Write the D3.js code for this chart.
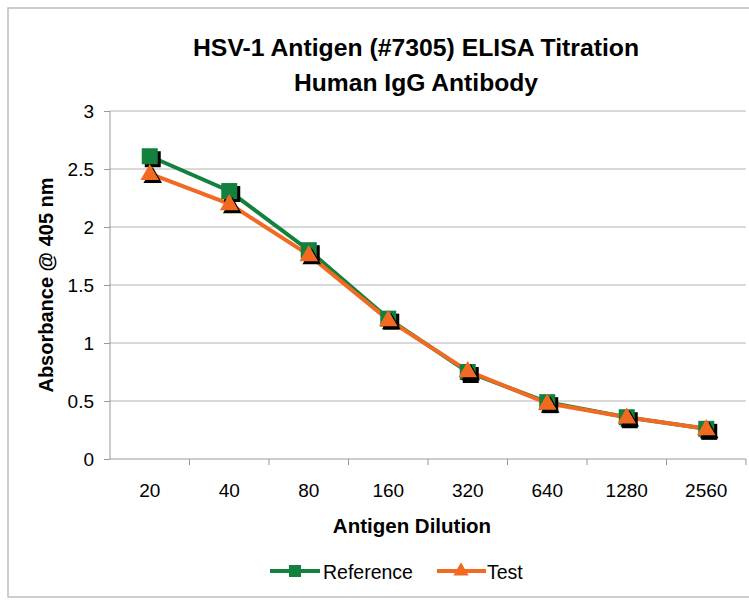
<!DOCTYPE html>
<html>
<head>
<meta charset="utf-8">
<script src="https://cdn.jsdelivr.net/npm/d3@7"></script>
<style>
body { margin: 0; background: #fff; }
text { font-family: "Liberation Sans", Arial, sans-serif; fill: #000; }
</style>
</head>
<body>
<svg width="749" height="600"></svg>
<script>
// data
var dilutions = ["20", "40", "80", "160", "320", "640", "1280", "2560"];
var reference = [2.61, 2.31, 1.80, 1.21, 0.75, 0.49, 0.36, 0.26];
var test = [2.46, 2.20, 1.76, 1.20, 0.76, 0.48, 0.36, 0.26];
var yTicks = [0, 0.5, 1, 1.5, 2, 2.5, 3];

var svg = d3.select("svg"),
  margin = {top: 111, left: 110, right: 3, bottom: 141},
  width = +svg.attr("width") - margin.left - margin.right,
  height = +svg.attr("height") - margin.top - margin.bottom;

// outer frame
svg.append("rect")
  .attr("x", 8).attr("y", 8).attr("width", 760).attr("height", 589)
  .attr("fill", "#fff").attr("stroke", "#bdbdbd").attr("stroke-width", 1.5);

var g = svg.append("g").attr("transform", "translate(" + margin.left + "," + margin.top + ")");

var x = d3.scaleBand().domain(dilutions).range([0, width]);
var y = d3.scaleLinear().domain([0, 3]).range([height, 0]);

// gridlines
g.selectAll(".grid").data(yTicks.slice(1)).enter().append("line")
  .attr("x1", 0).attr("x2", width)
  .attr("y1", function(d) { return y(d); }).attr("y2", function(d) { return y(d); })
  .attr("stroke", "#b4b4b4").attr("stroke-width", 1);

// y axis
var yAxis = g.append("g")
  .call(d3.axisLeft(y).tickValues(yTicks).tickSize(6).tickPadding(10).tickFormat(d3.format("")));
yAxis.select(".domain").attr("stroke", "#999").attr("d", "M0," + height + "V0");
yAxis.selectAll(".tick line").attr("stroke", "#999");
yAxis.selectAll("text").style("font-size", "19px").attr("fill", "#000").attr("dy", "0.36em");

// x axis: ticks at category boundaries
var xAxis = g.append("g").attr("transform", "translate(0," + height + ")");
xAxis.append("line").attr("x1", 0).attr("x2", width).attr("stroke", "#999");
xAxis.selectAll(".bt").data(dilutions).enter().append("line")
  .attr("x1", function(d) { return x(d) + x.bandwidth(); })
  .attr("x2", function(d) { return x(d) + x.bandwidth(); })
  .attr("y1", 0).attr("y2", 6).attr("stroke", "#999");
xAxis.selectAll(".lbl").data(dilutions).enter().append("text")
  .attr("x", function(d) { return x(d) + x.bandwidth() / 2; })
  .attr("y", 38).attr("text-anchor", "middle")
  .style("font-size", "19px").text(function(d) { return d; });

var cx = function(i) { return x(dilutions[i]) + x.bandwidth() / 2; };
var line = d3.line().x(function(d, i) { return cx(i); }).y(function(d) { return y(d); });

var green = "#14803e", orange = "#f26a22";

g.append("path").datum(reference).attr("d", line)
  .attr("fill", "none").attr("stroke", green).attr("stroke-width", 4);
g.append("path").datum(test).attr("d", line)
  .attr("fill", "none").attr("stroke", orange).attr("stroke-width", 4);

var sq = 16, tri = d3.symbol().type(d3.symbolTriangle).size(150);

// square markers with shadow
g.selectAll(".sqs").data(reference).enter().append("rect")
  .attr("x", function(d, i) { return cx(i) - sq / 2 + 3; })
  .attr("y", function(d) { return y(d) - sq / 2 + 3; })
  .attr("width", sq).attr("height", sq).attr("fill", "#000");
g.selectAll(".sq").data(reference).enter().append("rect")
  .attr("x", function(d, i) { return cx(i) - sq / 2; })
  .attr("y", function(d) { return y(d) - sq / 2; })
  .attr("width", sq).attr("height", sq).attr("fill", green);

// triangle markers with shadow
g.selectAll(".trs").data(test).enter().append("path")
  .attr("d", tri)
  .attr("transform", function(d, i) { return "translate(" + (cx(i) + 3) + "," + (y(d) + 4) + ")"; })
  .attr("fill", "#000");
g.selectAll(".tr").data(test).enter().append("path")
  .attr("d", tri)
  .attr("transform", function(d, i) { return "translate(" + cx(i) + "," + (y(d) + 1) + ")"; })
  .attr("fill", orange);

// titles
svg.append("text").attr("x", 416).attr("y", 56).attr("text-anchor", "middle")
  .attr("textLength", 446).attr("lengthAdjust", "spacingAndGlyphs")
  .style("font-size", "24px").style("font-weight", "bold")
  .text("HSV-1 Antigen (#7305) ELISA Titration");
svg.append("text").attr("x", 416).attr("y", 91).attr("text-anchor", "middle")
  .attr("textLength", 244).attr("lengthAdjust", "spacingAndGlyphs")
  .style("font-size", "24px").style("font-weight", "bold")
  .text("Human IgG Antibody");
svg.append("text").attr("x", 412).attr("y", 533).attr("text-anchor", "middle")
  .style("font-size", "20.5px").style("font-weight", "bold")
  .text("Antigen Dilution");
svg.append("text").attr("transform", "translate(53,285) rotate(-90)").attr("text-anchor", "middle")
  .style("font-size", "20px").style("font-weight", "bold")
  .text("Absorbance @ 405 nm");

// legend
var legend = svg.append("g").attr("transform", "translate(270,571)");
legend.append("line").attr("x1", 0).attr("x2", 50).attr("stroke", green).attr("stroke-width", 4);
legend.append("rect").attr("x", 19).attr("y", -6).attr("width", 12).attr("height", 12).attr("fill", green);
legend.append("text").attr("x", 53).attr("y", 8).style("font-size", "19.5px").text("Reference");
legend.append("line").attr("x1", 167).attr("x2", 216).attr("stroke", orange).attr("stroke-width", 4);
legend.append("path").attr("d", d3.symbol().type(d3.symbolTriangle).size(100))
  .attr("transform", "translate(191,0)").attr("fill", orange);
legend.append("text").attr("x", 217).attr("y", 8).style("font-size", "19.5px").text("Test");
</script>
</body>
</html>
